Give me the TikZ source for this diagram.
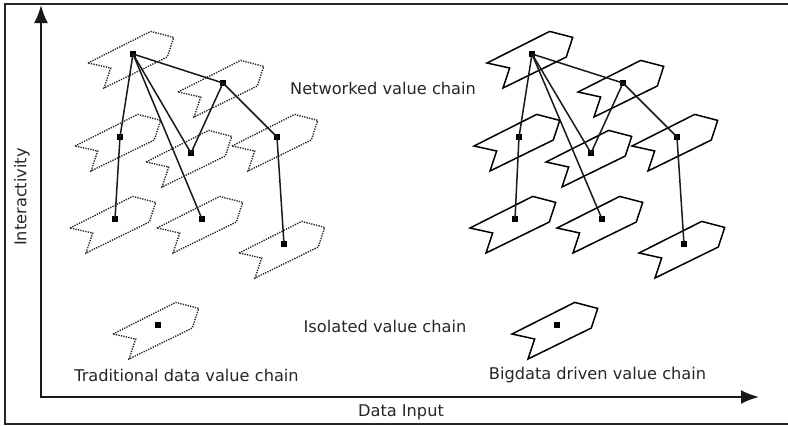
\documentclass[tikz,border=0pt]{standalone}
\usepackage{fontspec}
\setmainfont{DejaVu Sans}
\usetikzlibrary{arrows.meta}
\tikzset{
  chevshape/.pic={\path[pic actions] (-45,9) -- (17.7,-22.6) -- (40.7,-16.6) -- (34.3,3) -- (-29,34) -- (-22.3,14) -- cycle;},
  chevT/.style={draw=black!85, line width=1.4pt, dash pattern=on 1.3pt off 1.2pt},
  chevB/.style={draw=black, line width=1.5pt, line join=miter},
  dotsq/.style={fill=black, minimum size=6pt, inner sep=0pt, rectangle},
  link/.style={draw=black!90, line width=1.5pt},
  lbl/.style={font=\fontsize{16.2}{19}\selectfont, text=black!85, inner sep=0pt},
  axis/.style={draw=black!90, line width=2pt},
  frame/.style={draw=black!85, line width=1.2pt}
}
\begin{document}
\begin{tikzpicture}[x=1pt,y=-1pt]
\useasboundingbox (0,0) rectangle (788,426);
% frame
\coordinate (F1) at (790,4);
\coordinate (F2) at (5,4);
\coordinate (F3) at (5,424);
\coordinate (F4) at (790,424);
\draw[frame] (F1) -- (F2) -- (F3) -- (F4);
% axes
\coordinate (O) at (41,397);
\coordinate (Ytip) at (41,5);
\coordinate (Xtip) at (759,397);
\draw[axis, {Latex[length=18pt,width=14pt]}-{Latex[length=18pt,width=14pt]}] (Ytip) -- (O) -- (Xtip);
% left group (dotted)
\foreach \p in {(133,54),(223,83),(120,137),(191,153),(277,137),(115,219),(202,219),(284,244),(158,325)}
  \pic[chevT] at \p {chevshape};
% right group (solid)
\foreach \p in {(532,54),(623,83),(519,137),(591,153),(677,137),(515,219),(602,219),(684,244),(557,325)}
  \pic[chevB] at \p {chevshape};
% dots
\node[dotsq] (L1) at (133,54) {};
\node[dotsq] (L2) at (223,83) {};
\node[dotsq] (L3) at (120,137) {};
\node[dotsq] (L4) at (191,153) {};
\node[dotsq] (L5) at (277,137) {};
\node[dotsq] (L6) at (115,219) {};
\node[dotsq] (L7) at (202,219) {};
\node[dotsq] (L8) at (284,244) {};
\node[dotsq] (L0) at (158,325) {};
\node[dotsq] (R1) at (532,54) {};
\node[dotsq] (R2) at (623,83) {};
\node[dotsq] (R3) at (519,137) {};
\node[dotsq] (R4) at (591,153) {};
\node[dotsq] (R5) at (677,137) {};
\node[dotsq] (R6) at (515,219) {};
\node[dotsq] (R7) at (602,219) {};
\node[dotsq] (R8) at (684,244) {};
\node[dotsq] (R0) at (557,325) {};
% links
\foreach \g in {L,R}{
  \draw[link] (\g1.center) -- (\g3.center) -- (\g6.center);
  \draw[link] (\g1.center) -- (\g4.center);
  \draw[link] (\g1.center) -- (\g7.center);
  \draw[link] (\g1.center) -- (\g2.center) -- (\g4.center);
  \draw[link] (\g2.center) -- (\g5.center) -- (\g8.center);
}
% labels
\node[lbl] (tnet) at (383,88) {Networked value chain};
\node[lbl] (tiso) at (385,326) {Isolated value chain};
\node[lbl] (ttrad) at (186.5,375) {Traditional data value chain};
\node[lbl] (tbig) at (597.5,375) {Bigdata driven value chain};
\node[lbl] (tx) at (401,412) {Data Input};
\node[lbl, rotate=90] (ty) at (22,197) {Interactivity};
\end{tikzpicture}
\end{document}
